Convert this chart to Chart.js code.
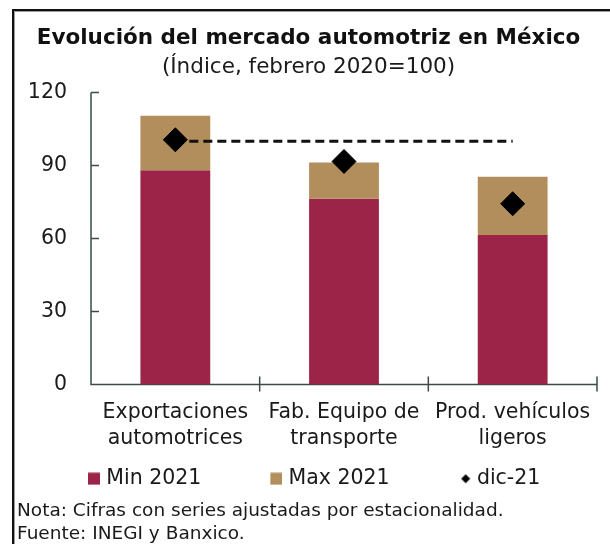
<!DOCTYPE html>
<html>
<head>
<meta charset="utf-8">
<script src="https://cdn.jsdelivr.net/npm/chart.js@4.4.1/dist/chart.umd.min.js"></script>
<style>
  html, body { margin: 0; padding: 0; background: #fff; }
  #wrap { position: relative; width: 610px; height: 544px; overflow: hidden; background: #fff; }
  #frame { position: absolute; left: 12px; top: 9px; width: 700px; height: 700px;
           border-left: 2px solid #111; border-top: 2px solid #111;
           box-shadow: inset 1px 1px 0 #9a9a9a; }
  #chartBox { position: absolute; left: 0; top: 0; width: 610px; height: 544px; }
  #note { position: absolute; left: 17px; top: 498px; font-family: 'DejaVu Sans', sans-serif;
          font-size: 18.5px; line-height: 23px; color: #1a1a1a; white-space: nowrap; }
</style>
</head>
<body>
<div id="wrap">
  <div id="frame"></div>
  <div id="chartBox"><canvas id="c" width="610" height="544"></canvas></div>
  <div id="note">Nota: Cifras con series ajustadas por estacionalidad.<br>Fuente: INEGI y Banxico.</div>
</div>
<script>
// ---- data ----
const categories = [['Exportaciones', 'automotrices'], ['Fab. Equipo de', 'transporte'], ['Prod. vehículos', 'ligeros']];
const min2021 = [88.1, 76.4, 61.5];
const max2021 = [110.5, 91.3, 85.4];
const dic21 = [100.6, 91.7, 74.3];
const baseLevel = [100, 100, 100];
const yTickMin = 0, yTickMax = 120, yTickStep = 30;
const seriesNames = ['Min 2021', 'Max 2021', 'dic-21'];
const titleText = 'Evolución del mercado automotriz en México';
const subtitleText = '(Índice, febrero 2020=100)';

// ---- styles ----
const MAROON = '#9D2449';
const TAN = '#B38E5D';
const AXIS = '#3b4b45';
const TEXT = '#1a1a1a';
Chart.defaults.font.family = "'DejaVu Sans', sans-serif";
Chart.defaults.color = TEXT;

// legend marker images (marker at right end, transparent lead-in for spacing)
const LEG_W = 67, OV = 4, IMG_W = LEG_W + 2 * OV, IMG_H = 13;
function markerImg(kind, color) {
  const cv = document.createElement('canvas');
  cv.width = IMG_W; cv.height = IMG_H;
  const g = cv.getContext('2d');
  g.fillStyle = color;
  if (kind === 'square') {
    g.fillRect(IMG_W - 12, 0.5, 12, 12);
  } else {
    const cx = IMG_W - 5, cy = IMG_H / 2, r = 4.5;
    g.beginPath();
    g.moveTo(cx - r, cy); g.lineTo(cx, cy - r); g.lineTo(cx + r, cy); g.lineTo(cx, cy + r);
    g.closePath(); g.fill();
  }
  return cv;
}
const legendMarkers = [markerImg('square', MAROON), markerImg('square', TAN), markerImg('diamond', '#000')];

const axesPlugin = {
  id: 'axesPlugin',
  beforeDatasetsDraw(chart) {
    const { ctx, chartArea, scales } = chart;
    const x = scales.x, y = scales.y;
    const y0 = y.getPixelForValue(yTickMin);
    const yTop = y.getPixelForValue(yTickMax);
    ctx.save();
    ctx.strokeStyle = AXIS;
    ctx.lineWidth = 1.5;
    ctx.beginPath();
    ctx.moveTo(chartArea.left, yTop);
    ctx.lineTo(chartArea.left, y0);
    ctx.lineTo(chartArea.right, y0);
    y.ticks.forEach(t => {
      const py = y.getPixelForValue(t.value);
      ctx.moveTo(chartArea.left, py);
      ctx.lineTo(chartArea.left + 8, py);
    });
    for (let i = 1; i <= categories.length; i++) {
      const px = x.getPixelForValue(i - 0.5);
      ctx.moveTo(px, y0 - 8);
      ctx.lineTo(px, y0 + 7);
    }
    ctx.stroke();
    ctx.restore();
  }
};

new Chart(document.getElementById('c'), {
  data: {
    labels: categories,
    datasets: [
      {
        type: 'line', label: seriesNames[2], data: dic21, order: 0,
        showLine: false, pointStyle: 'rectRot', pointRadius: 12, pointHoverRadius: 12,
        pointBackgroundColor: '#000', pointBorderColor: '#000', pointBorderWidth: 1
      },
      {
        type: 'line', label: 'ref', data: baseLevel, order: 1,
        borderColor: '#111', borderWidth: 3, borderDash: [9, 5], pointRadius: 0, pointHoverRadius: 0, fill: false
      },
      {
        type: 'bar', label: seriesNames[1], order: 2, grouped: false,
        data: min2021.map((v, i) => [v, max2021[i]]),
        backgroundColor: TAN, barPercentage: 0.414, categoryPercentage: 1
      },
      {
        type: 'bar', label: seriesNames[0], order: 3, grouped: false,
        data: min2021,
        backgroundColor: MAROON, barPercentage: 0.414, categoryPercentage: 1
      }
    ]
  },
  options: {
    responsive: false,
    animation: false,
    events: [],
    layout: { padding: { left: 19, right: 12, top: 0, bottom: 45 } },
    scales: {
      x: {
        type: 'category',
        offset: true,
        grid: { display: false, drawTicks: false },
        border: { display: false },
        ticks: { autoSkip: false, maxRotation: 0, minRotation: 0, padding: 15,
                 font: { size: 20.5, lineHeight: 1.27 }, color: TEXT },
        afterFit(scale) { scale.height = 74; }
      },
      y: {
        min: yTickMin, max: yTickMax,
        grid: { display: false, drawTicks: false },
        border: { display: false },
        ticks: { stepSize: yTickStep, padding: 24, font: { size: 20.5 }, color: TEXT },
        afterFit(scale) { scale.width = 72; }
      }
    },
    plugins: {
      tooltip: { enabled: false },
      title: { display: true, text: titleText, color: '#111',
               font: { size: 21.5, weight: 'bold' }, padding: { top: 26, bottom: 0 } },
      subtitle: { display: true, text: subtitleText, color: '#1a1a1a',
                  font: { size: 21.5 }, padding: { top: 3, bottom: 12 } },
      legend: {
        position: 'bottom',
        align: 'start',
        labels: {
          usePointStyle: true,
          pointStyleWidth: LEG_W,
          boxHeight: 13,
          padding: 10,
          font: { size: 20.5 },
          color: TEXT,
          generateLabels() {
            return [0, 1, 2].map(i => ({
              text: seriesNames[i],
              pointStyle: legendMarkers[i],
              fillStyle: 'rgba(0,0,0,0)',
              strokeStyle: 'rgba(0,0,0,0)',
              lineWidth: 0,
              fontColor: TEXT,
              hidden: false,
              datasetIndex: [3, 2, 0][i]
            }));
          }
        }
      }
    }
  },
  plugins: [axesPlugin]
});
</script>
</body>
</html>
